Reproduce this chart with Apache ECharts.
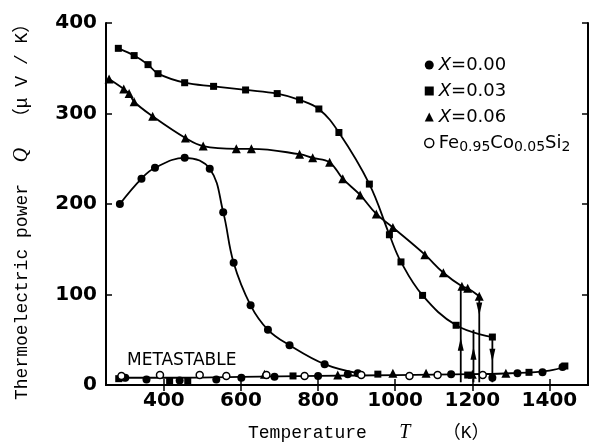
<!DOCTYPE html>
<html><head><meta charset="utf-8">
<script src="https://cdn.jsdelivr.net/npm/echarts@6/dist/echarts.min.js"></script>
<style>html,body{margin:0;padding:0;background:#fff}#c{width:597px;height:445px}</style>
</head><body><div id="c"></div>
<script>
// ---- data ----
const xTicks = [400, 600, 800, 1000, 1200, 1400];
const yTicks = [0, 100, 200, 300, 400];
const seriesNames = ['X=0.00', 'X=0.03', 'X=0.06', 'Fe0.95Co0.05Si2'];

// X = 0.00 (filled circles), stable branch
const x000 = [[286,200],[342,228],[377,240],[454,251],[519,239],[554,191],[581,135],[625,88],[670,61],[726,44],[817,23],[903,13]];
// X = 0.03 (squares)
const x003 = [[282,372],[323,364],[359,354],[385,344],[454,334],[529,330],[612,326],[694,322],[752,315],[802,305],[854,279],[933,222],[985,166],[1015,136],[1071,99],[1158,66],[1252,53]];
// X = 0.06 (triangles)
const x006 = [[258,338],[296,327],[310,322],[323,313],[371,297],[456,273],[502,264],[588,261],[627,261],[752,255],[786,251],[830,246],[864,228],[909,210],[951,189],[994,174],[1077,144],[1125,124],[1173,109],[1188,107],[1218,98]];

// metastable branch points
const metaCircle = [[300,8],[355,6],[441,5],[536,6],[601,8],[687,9],[800,10],[877,12],[1145,12],[1252,8],[1317,13],[1382,14],[1434,20]];
const metaSquare = [[283,7],[415,5],[462,4],[735,10],[955,12],[1188,11],[1347,14],[1440,21]];
const metaTriangle = [[292,9],[661,12],[851,11],[994,13],[1080,13],[1200,12],[1287,13]];
const feOpen = [[290,10],[390,11],[493,11],[562,10],[666,11],[765,10],[912,11],[1037,10],[1110,11],[1227,11]];
// common metastable curve
const baseline = [[278,8],[400,8],[600,9],[800,10],[1000,11],[1200,12],[1300,13],[1400,16],[1445,21]];

// vertical transitions: [T, Q start, Q end]
const transitions = [[1170,3,109],[1203,3,61],[1218,98,3],[1252,53,3]];
const arrowsUp = [[1170,45],[1203,35]];
const arrowsDown = [[1218,84],[1252,33]];

// ---- chart ----
const BLACK = '#000';
const lineW = 1.8;
const chart = echarts.init(document.getElementById('c'), null, {renderer: 'canvas'});

function mkLine(name, data, symbol, size) {
  return {
    name: name, type: 'line', data: data, smooth: 0.4,
    symbol: symbol, symbolSize: size, showSymbol: true,
    lineStyle: {color: BLACK, width: lineW},
    itemStyle: {color: BLACK, borderColor: BLACK, borderWidth: 0, opacity: 1},
    z: 3, animation: false
  };
}
function mkScatter(name, data, symbol, size, empty) {
  return {
    name: name, type: 'scatter', data: data, symbol: symbol, symbolSize: size,
    itemStyle: empty ? {color: '#fff', borderColor: BLACK, borderWidth: 1.5, opacity: 1} : {color: BLACK, opacity: 1},
    z: 4, animation: false
  };
}

const series = [
  mkLine(seriesNames[0], x000, 'circle', 8),
  mkLine(seriesNames[1], x003, 'rect', 7),
  mkLine(seriesNames[2], x006, 'triangle', 9),
  {
    name: 'baseline', type: 'line', data: baseline, smooth: 0.4, symbol: 'none',
    lineStyle: {color: BLACK, width: lineW}, z: 2, animation: false
  },
  mkScatter(seriesNames[0], metaCircle, 'circle', 8, false),
  mkScatter(seriesNames[1], metaSquare, 'rect', 7, false),
  mkScatter(seriesNames[2], metaTriangle, 'triangle', 9, false),
  mkScatter(seriesNames[3], feOpen, 'circle', 7, true)
];
transitions.forEach(function (t) {
  series.push({
    name: 'transition', type: 'line', data: [[t[0], t[1]], [t[0], t[2]]],
    symbol: 'none', lineStyle: {color: BLACK, width: lineW}, z: 2, animation: false
  });
});
series.push({
  name: 'arrowUp', type: 'scatter', data: arrowsUp, symbol: 'triangle', symbolSize: [6, 13],
  itemStyle: {color: BLACK, opacity: 1}, z: 5, animation: false
});
series.push({
  name: 'arrowDown', type: 'scatter', data: arrowsDown, symbol: 'triangle', symbolSize: [6, 13],
  symbolRotate: 180, itemStyle: {color: BLACK, opacity: 1}, z: 5, animation: false
});

const tickFont = {color: BLACK, fontFamily: 'DejaVu Sans', fontSize: 20, fontWeight: 'bold'};
const axisLineStyle = {lineStyle: {color: BLACK, width: 2}};
const plain = function (v) { return String(v); };

const legendText = {
  'X=0.00': '{i|X}=0.00',
  'X=0.03': '{i|X}=0.03',
  'X=0.06': '{i|X}=0.06',
  'Fe0.95Co0.05Si2': 'Fe{s|0.95}Co{s|0.05}Si{s|2}'
};
const monoFam = "'Liberation Mono', 'Noto Sans CJK JP', monospace";

chart.setOption({
  backgroundColor: '#fff',
  animation: false,
  grid: {left: 106, right: 9, top: 23, bottom: 60, containLabel: false},
  xAxis: [{
    type: 'value', min: 250, max: 1500, position: 'bottom',
    axisLine: axisLineStyle,
    axisTick: {show: true, inside: true, length: 6, customValues: xTicks, lineStyle: {color: BLACK, width: 1.5}},
    axisLabel: Object.assign({customValues: xTicks, margin: 6, formatter: plain}, tickFont),
    splitLine: {show: false}
  }, {
    type: 'value', min: 250, max: 1500, position: 'top',
    axisLine: axisLineStyle,
    axisTick: {show: true, inside: true, length: 6, customValues: xTicks, lineStyle: {color: BLACK, width: 1.5}},
    axisLabel: {show: false}, splitLine: {show: false}
  }],
  yAxis: [{
    type: 'value', min: 0, max: 400, interval: 100, position: 'left',
    axisLine: Object.assign({show: true}, axisLineStyle),
    axisTick: {show: true, inside: true, length: 6, lineStyle: {color: BLACK, width: 1.5}},
    axisLabel: Object.assign({margin: 9, customValues: yTicks, formatter: plain}, tickFont),
    splitLine: {show: false}
  }, {
    type: 'value', min: 0, max: 400, interval: 100, position: 'right',
    axisLine: Object.assign({show: true}, axisLineStyle),
    axisTick: {show: true, inside: true, length: 6, lineStyle: {color: BLACK, width: 1.5}},
    axisLabel: {show: false}, splitLine: {show: false}
  }],
  legend: {
    orient: 'vertical', left: 419, top: 49, itemWidth: 9, itemHeight: 9, itemGap: 4,
    selectedMode: false,
    data: [
      {name: seriesNames[0], icon: 'circle'},
      {name: seriesNames[1], icon: 'rect'},
      {name: seriesNames[2], icon: 'triangle'},
      {name: seriesNames[3], icon: 'circle', itemStyle: {color: '#fff', borderColor: BLACK, borderWidth: 1.5}}
    ],
    formatter: function (n) { return legendText[n]; },
    textStyle: {
      color: BLACK, fontFamily: 'DejaVu Sans', fontSize: 18, lineHeight: 22,
      rich: {
        i: {fontStyle: 'italic', fontFamily: 'DejaVu Sans', fontSize: 18, lineHeight: 22, color: BLACK},
        s: {fontFamily: 'DejaVu Sans', fontSize: 14, lineHeight: 8, verticalAlign: 'bottom', color: BLACK}
      }
    }
  },
  graphic: [
    {
      type: 'text', x: 248, y: 433, z: 10,
      style: {
        text: 'Temperature   {i|T}   （K）',
        fill: BLACK, fontFamily: monoFam, fontSize: 18, align: 'left', verticalAlign: 'middle',
        rich: {i: {fontFamily: 'Liberation Serif', fontStyle: 'italic', fontSize: 20, fill: BLACK}}
      }
    },
    {
      type: 'text', x: 22, y: 400, rotation: Math.PI / 2, z: 10,
      style: {
        text: 'Thermoelectric power  {i|Q}  （μ V / K）',
        fill: BLACK, fontFamily: monoFam, fontSize: 18, align: 'left', verticalAlign: 'middle',
        rich: {i: {fontFamily: 'Liberation Serif', fontStyle: 'italic', fontSize: 20, fill: BLACK}}
      }
    },
    {
      type: 'text', x: 127, y: 361, z: 10,
      style: {
        text: 'METASTABLE', fill: BLACK, fontFamily: 'DejaVu Sans', fontSize: 17,
        align: 'left', verticalAlign: 'middle'
      }
    }
  ],
  series: series
});
</script>
</body></html>
